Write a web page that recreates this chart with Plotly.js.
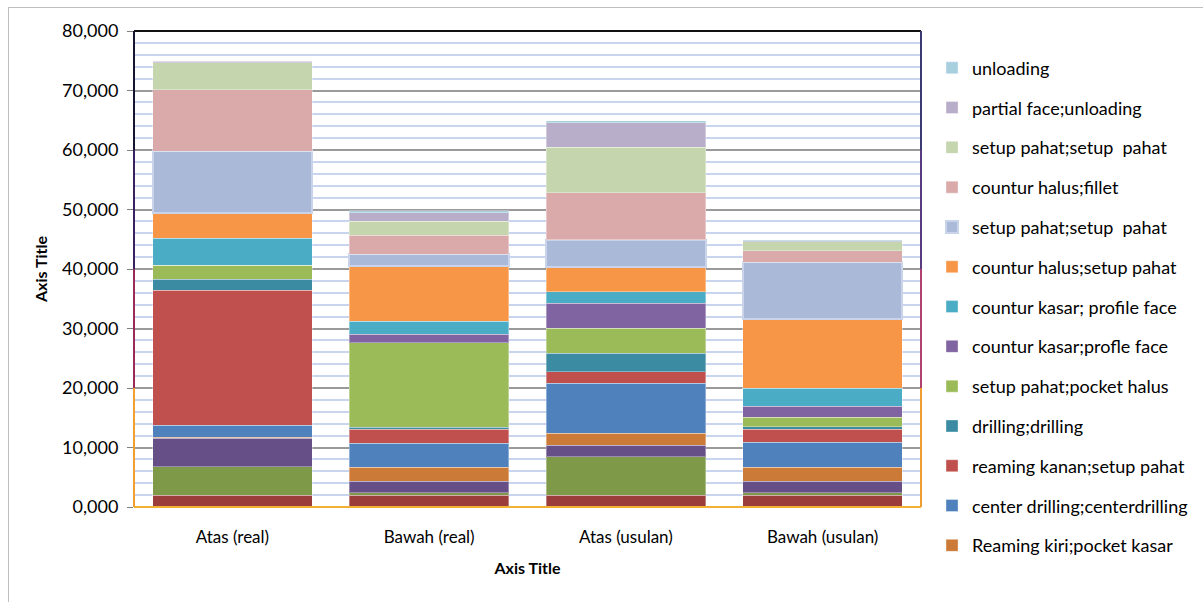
<!DOCTYPE html>
<html>
<head>
<meta charset="utf-8">
<script src="https://cdn.plot.ly/plotly-3.0.1.min.js"></script>
<style>
  html, body { margin: 0; padding: 0; background: #fff; }
  #chart { width: 1203px; height: 602px; }
  #frame { position: absolute; left: 8px; top: 7px; width: 1210px; height: 610px; border: 1px solid #BFBFBF; pointer-events: none; }
</style>
</head>
<body>
<div id="chart"></div>
<div id="frame"></div>
<script>
const categories = ["Atas (real)", "Bawah (real)", "Atas (usulan)", "Bawah (usulan)"];

// bottom three series (not shown in legend of the original)
const baseA = [2.0, 2.0, 2.0, 2.0];
const baseB = [4.75, 0.4, 6.45, 0.4];
const baseC = [4.8, 1.9, 1.95, 1.9];

const reamingKiri = [0.2, 2.35, 2.0, 2.35];
const centerDrilling = [2.0, 4.1, 8.4, 4.2];
const reamingKanan = [22.7, 2.35, 1.95, 2.25];
const drilling = [1.85, 0.3, 3.1, 0.35];
const pocketHalus = [2.35, 14.2, 4.2, 1.6];
const profleFace = [0.0, 1.4, 4.2, 1.85];
const profileFace = [4.5, 2.25, 1.95, 3.1];
const halusSetup = [4.3, 9.25, 4.2, 11.6];
const setupPahatA = [10.3, 1.95, 4.5, 9.55];
const halusFillet = [10.4, 3.25, 7.9, 1.95];
const setupPahatB = [4.5, 2.35, 7.65, 1.5];
const partialFace = [0.3, 1.4, 4.15, 0.15];
const unloading = [0.05, 0.3, 0.3, 0.05];

const seriesNames = [
  "", "", "",
  "Reaming kiri;pocket kasar",
  "center drilling;centerdrilling",
  "reaming kanan;setup pahat",
  "drilling;drilling",
  "setup pahat;pocket halus",
  "countur kasar;profle face",
  "countur kasar; profile face",
  "countur halus;setup pahat",
  "setup pahat;setup  pahat",
  "countur halus;fillet",
  "setup pahat;setup  pahat",
  "partial face;unloading",
  "unloading"
];
const seriesValues = [baseA, baseB, baseC, reamingKiri, centerDrilling, reamingKanan, drilling,
  pocketHalus, profleFace, profileFace, halusSetup, setupPahatA, halusFillet, setupPahatB, partialFace, unloading];
const seriesColors = ["#9A3D3B", "#7E9A48", "#664E87", "#CC7A37", "#4F81BD", "#C0504D", "#3B8BA2",
  "#9BBB59", "#8064A2", "#4BACC6", "#F79646", "#AAB9D7", "#DAA9A9", "#C5D5AE", "#B9AECA", "#A8CFDE"];

const FONT = "Lato, 'Open Sans', sans-serif";

const traces = seriesValues.map((vals, i) => ({
  type: "bar",
  x: categories,
  y: vals,
  name: seriesNames[i] || ("s" + i),
  showlegend: i >= 3,
  legendgroup: "g" + i,
  legendrank: 100 - i,
  marker: {
    color: seriesColors[i],
    line: { color: i === 11 ? "#C9D3EA" : "rgba(255,255,255,0.35)", width: i === 11 ? 2 : 1 }
  },
  hoverinfo: "name+y"
}));

const layout = {
  width: 1203,
  height: 602,
  barmode: "stack",
  bargap: 0.19,
  separators: ",.",
  paper_bgcolor: "#FFFFFF",
  plot_bgcolor: "#FFFFFF",
  margin: { l: 134, r: 282, t: 31, b: 95, autoexpand: false },
  font: { family: FONT, size: 17, color: "#000" },
  xaxis: {
    type: "category",
    automargin: false,
    showgrid: false,
    showline: false,
    ticks: "",
    ticklabelstandoff: 18,
    tickfont: { family: FONT, size: 17, color: "#000" },
    title: { text: "<b>Axis Title</b>", font: { family: FONT, size: 16, color: "#000" }, standoff: 16 }
  },
  yaxis: {
    range: [0, 80],
    automargin: false,
    tick0: 0,
    dtick: 10,
    tickformat: ".3f",
    ticks: "outside",
    ticklen: 6,
    tickcolor: "#808080",
    ticklabelstandoff: 5,
    showline: false,
    gridcolor: "#9A9A9A",
    gridwidth: 1.5,
    zeroline: false,
    tickfont: { family: FONT, size: 18, color: "#000" },
    title: { text: "<b>Axis Title</b>", font: { family: FONT, size: 16, color: "#000" }, standoff: 10 },
    minor: { dtick: 2, showgrid: true, gridcolor: "#C9D5EE", gridwidth: 2, ticks: "" }
  },
  legend: {
    x: 1.014,
    xanchor: "left",
    y: 0.961,
    yanchor: "top",
    traceorder: "grouped",
    tracegroupgap: 13.4,
    maxheight: 600,
    font: { family: FONT, size: 18, color: "#000" },
    bgcolor: "rgba(0,0,0,0)"
  },
  shapes: [
    { type: "line", xref: "paper", yref: "paper", x0: 0, x1: 1, y0: 1, y1: 1, line: { color: "#111", width: 2 }, layer: "above" },
    { type: "line", xref: "paper", yref: "paper", x0: 0, x1: 1, y0: 0, y1: 0, line: { color: "#F2B133", width: 2 }, layer: "above" },
    { type: "line", xref: "paper", yref: "paper", x0: 0, x1: 0, y0: 0.75, y1: 1, line: { color: "#151530", width: 2 }, layer: "above" },
    { type: "line", xref: "paper", yref: "paper", x0: 0, x1: 0, y0: 0.5, y1: 0.75, line: { color: "#3A2260", width: 2 }, layer: "above" },
    { type: "line", xref: "paper", yref: "paper", x0: 0, x1: 0, y0: 0.25, y1: 0.5, line: { color: "#9A2A5A", width: 2 }, layer: "above" },
    { type: "line", xref: "paper", yref: "paper", x0: 0, x1: 0, y0: 0, y1: 0.25, line: { color: "#F0A030", width: 2 }, layer: "above" },
    { type: "line", xref: "paper", yref: "paper", x0: 1, x1: 1, y0: 0.75, y1: 1, line: { color: "#3A3A70", width: 2 }, layer: "above" },
    { type: "line", xref: "paper", yref: "paper", x0: 1, x1: 1, y0: 0.5, y1: 0.75, line: { color: "#5A3A80", width: 2 }, layer: "above" },
    { type: "line", xref: "paper", yref: "paper", x0: 1, x1: 1, y0: 0.25, y1: 0.5, line: { color: "#B04070", width: 2 }, layer: "above" },
    { type: "line", xref: "paper", yref: "paper", x0: 1, x1: 1, y0: 0, y1: 0.25, line: { color: "#F0A030", width: 2 }, layer: "above" }
  ]
};

Plotly.newPlot("chart", traces, layout, { displayModeBar: false, responsive: false });
</script>
</body>
</html>
